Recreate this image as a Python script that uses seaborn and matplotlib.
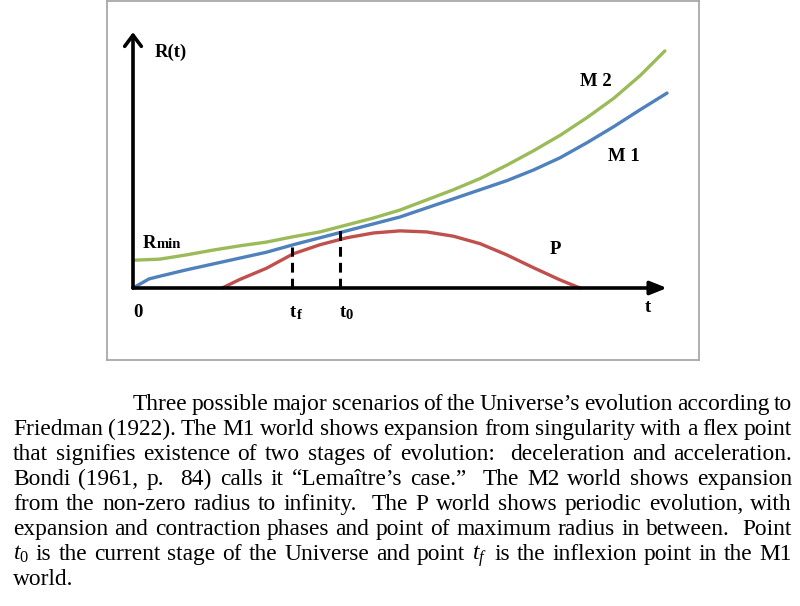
import matplotlib
matplotlib.use("Agg")
import matplotlib.pyplot as plt
import numpy as np
import pandas as pd
import seaborn as sns

# ---------------- data ----------------
worlds = ["M 2", "M 1", "P"]
colors = ["#9BBB59", "#4F81BD", "#C0504D"]

t_m2 = [0, 0.5, 1.0, 1.5, 2.0, 2.5, 3.0, 3.5, 4.0, 4.5, 5.0, 5.5, 6.0, 6.5, 7.0,
        7.5, 8.0, 8.5, 9.0, 9.5, 9.96]
R_m2 = [0.52, 0.54, 0.62, 0.71, 0.79, 0.86, 0.96, 1.05, 1.18, 1.31, 1.46, 1.65,
        1.84, 2.05, 2.30, 2.57, 2.86, 3.19, 3.55, 3.98, 4.44]

t_m1 = [0, 0.3, 0.5, 1.0, 1.5, 2.0, 2.5, 3.0, 3.5, 4.0, 4.5, 5.0, 5.5, 6.0, 6.5,
        7.0, 7.5, 8.0, 8.5, 9.0, 9.5, 10.0]
R_m1 = [0, 0.17, 0.22, 0.34, 0.45, 0.56, 0.67, 0.81, 0.94, 1.07, 1.20, 1.33, 1.50,
        1.67, 1.84, 2.01, 2.21, 2.44, 2.72, 3.02, 3.34, 3.65]

t_p = [1.67, 2.0, 2.5, 3.0, 3.5, 4.0, 4.5, 5.0, 5.5, 6.0, 6.5, 7.0, 7.5, 8.0, 8.37]
R_p = [0, 0.16, 0.37, 0.64, 0.81, 0.94, 1.03, 1.07, 1.05, 0.97, 0.83, 0.62, 0.38,
       0.15, 0]

mark_names = ["tf", "t0"]
mark_t = [2.98, 3.88]
mark_R = [0.77, 1.09]

axis_t_max = 10.0
axis_R_max = 4.79

caption_lines = [
    "Three possible major scenarios of the Universe\u2019s evolution according to",
    "Friedman (1922). The M1 world shows expansion from singularity with a flex point",
    "that signifies existence of two stages of evolution:  deceleration and acceleration.",
    "Bondi (1961, p.  84) calls it \u201cLema\u00eetre\u2019s case.\u201d  The M2 world shows expansion",
    "from the non-zero radius to infinity.  The P world shows periodic evolution, with",
    "expansion and contraction phases and point of maximum radius in between.  Point",
    r"$t_0$ is the current stage of the Universe and point $t_f$ is the inflexion point in the M1",
    "world.",
]

# ---------------- style ----------------
sns.set_style("white")
plt.rcParams["font.family"] = ["Liberation Serif", "DejaVu Serif"]
plt.rcParams["mathtext.fontset"] = "custom"
plt.rcParams["mathtext.rm"] = "Liberation Serif"
plt.rcParams["mathtext.it"] = "Liberation Serif:italic"
plt.rcParams["mathtext.bf"] = "Liberation Serif:bold"

W, H = 800, 606
fig = plt.figure(figsize=(W / 100, H / 100), dpi=100)
fig.patch.set_facecolor("white")


def fx(px):
    return px / W


def fy(py):
    return 1 - py / H


# axes box = grey frame of the picture
bx0, by0, bx1, by1 = 107, 1, 699, 360
ax = fig.add_axes([fx(bx0), fy(by1), (bx1 - bx0) / W, (by1 - by0) / H])
ox, oy, scale = 133, 288, 53.4
ax.set_xlim((bx0 - ox) / scale, (bx1 - ox) / scale)
ax.set_ylim((oy - by1) / scale, (oy - by0) / scale)
ax.set_xticks([])
ax.set_yticks([])
for s in ax.spines.values():
    s.set_color("#A8A8A8")
    s.set_linewidth(1.3)

df = pd.concat([
    pd.DataFrame({"t": t_m2, "R": R_m2, "world": worlds[0]}),
    pd.DataFrame({"t": t_m1, "R": R_m1, "world": worlds[1]}),
    pd.DataFrame({"t": t_p, "R": R_p, "world": worlds[2]}),
])
sns.lineplot(data=df, x="t", y="R", hue="world", palette=dict(zip(worlds, colors)),
             estimator=None, sort=False, linewidth=2.4, legend=False, ax=ax, zorder=3)
ax.set_xlabel("")
ax.set_ylabel("")

# dashed markers tf, t0
for mt, mr in zip(mark_t, mark_R):
    ax.plot([mt, mt], [0, mr], color="black", lw=2.2, linestyle=(0, (3.2, 2.0)),
            zorder=4, solid_capstyle="butt")

# axes arrows
ax.annotate("", xy=(axis_t_max, 0), xytext=(0, 0),
            arrowprops=dict(arrowstyle="-|>,head_length=1.0,head_width=0.4",
                            mutation_scale=10, lw=2.6, color="black",
                            shrinkA=0, shrinkB=0), zorder=5)
ax.annotate("", xy=(0, axis_R_max), xytext=(0, 0),
            arrowprops=dict(arrowstyle="->,head_length=0.8,head_width=0.6",
                            mutation_scale=10, lw=2.6, color="black",
                            shrinkA=0, shrinkB=0), zorder=5)

# chart labels
lab = dict(fontweight="bold", va="baseline", ha="left", color="black")
big, small = 13.5, 10.5
fig.text(fx(155), fy(57), "R(t)", fontsize=big, **lab)
fig.text(fx(143), fy(248), "R", fontsize=big, **lab)
fig.text(fx(157), fy(248), "min", fontsize=small, **lab)
fig.text(fx(580), fy(86), "M 2", fontsize=big, **lab)
fig.text(fx(608), fy(161), "M 1", fontsize=big, **lab)
fig.text(fx(550), fy(254), "P", fontsize=big, **lab)
fig.text(fx(133), fy(317), "0", fontsize=big, **lab)
fig.text(fx(645), fy(312), "t", fontsize=big, **lab)
fig.text(fx(290), fy(317), "t", fontsize=big, **lab)
fig.text(fx(297), fy(319), "f", fontsize=small, **lab)
fig.text(fx(340), fy(317), "t", fontsize=big, **lab)
fig.text(fx(346), fy(319), "0", fontsize=small, **lab)

# caption, justified
cap_fs = 16.8
left, right, indent = 13, 792, 133
base0, lead = 410, 25
fig.canvas.draw()
rend = fig.canvas.get_renderer()
for i, line in enumerate(caption_lines):
    y = fy(base0 + lead * i)
    x0 = indent if i == 0 else left
    words = line.split(" ")
    arts, widths = [], []
    for w in words:
        if w:
            a = fig.text(0, y, w, fontsize=cap_fs, va="baseline", ha="left", color="black")
            widths.append(a.get_window_extent(rend).width)
        else:
            a = None
            widths.append(0.0)
        arts.append(a)
    if i == len(caption_lines) - 1 or len(words) == 1:
        gap = cap_fs * 0.25 * 100 / 72
    else:
        gap = (right - x0 - sum(widths)) / (len(words) - 1)
    x = x0
    for a, w in zip(arts, widths):
        if a is not None:
            a.set_x(fx(x))
        x += w + gap

fig.savefig("out.png", dpi=100, facecolor="white")
